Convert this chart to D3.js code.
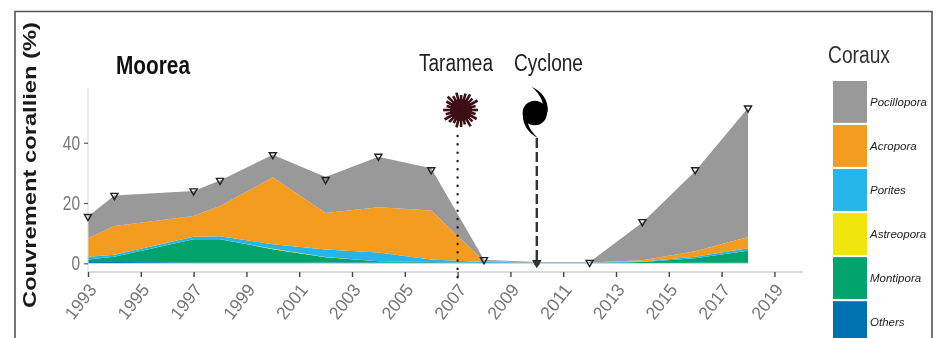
<!DOCTYPE html>
<html><head><meta charset="utf-8">
<script src="https://cdnjs.cloudflare.com/ajax/libs/d3/7.8.5/d3.min.js"></script>
<style>
html,body{margin:0;padding:0;background:#fff;overflow:hidden}
svg{display:block;filter:blur(0.45px)}
text{font-family:"Liberation Sans",Arial,sans-serif}
</style></head><body><svg id="c" width="943" height="338"></svg>
<script>
const years      = [1993,1994,1997,1998,2000,2002,2004,2006,2008,2010,2012,2014,2016,2018];
const others     = [0.4,0.4,0.3,0.3,0.3,0.3,0.3,0.3,0.1,0.1,0.1,0.1,0.2,0.2];
const montipora  = [0.9,1.8,7.7,7.7,4.4,1.7,0.4,0.1,0.0,0.0,0.0,0.3,1.5,4.0];
const astreopora = [0.0,0.0,0.0,0.0,0.1,0.1,0.0,0.0,0.0,0.0,0.0,0.0,0.0,0.0];
const porites    = [0.9,0.6,0.8,1.0,1.5,2.5,2.9,0.9,0.3,0.2,0.2,0.2,0.5,0.8];
const acropora   = [6.1,9.6,6.9,10.0,22.2,12.1,15.0,16.2,0.3,0.0,0.0,0.4,1.8,3.7];
const pocillopora= [7.2,10.1,8.3,8.5,7.5,11.9,16.7,14.0,0.5,0.1,0.1,12.5,26.5,42.8];
const surveyTotals=[15.5,22.5,24,27.5,36,27.8,35.5,31,1.2,0.2,0.3,13.8,31,51.5];
const legendNames = ["Pocillopora","Acropora","Porites","Astreopora","Montipora","Others"];
const legendColors= ["#999999","#F39C1F","#27B4E8","#F0E60E","#03A36E","#0072B2"];
const xTicks = [1993,1995,1997,1999,2001,2003,2005,2007,2009,2011,2013,2015,2017,2019];
const yTicks = [0,20,40];
const eventYears = {taramea:2007, cyclone:2010};
const urchinSpikes = [17,15,18,16,19,15,17,18,15,17,19,16,18,15,17,19,16,18,15,17,18,16,19,15];

const svg = d3.select("#c");
const x = d3.scaleLinear().domain([1993,2019]).range([88,774.4]);
const y = d3.scaleLinear().domain([0,40]).range([263.3,142.7]);

// frame
svg.append("path").attr("d","M15 338V11.5H932V338").attr("fill","none").attr("stroke","#555").attr("stroke-width",1.6);

// stack
const seriesByKey = {Others:others,Montipora:montipora,Astreopora:astreopora,Porites:porites,Acropora:acropora,Pocillopora:pocillopora};
const order = ["Others","Montipora","Astreopora","Porites","Acropora","Pocillopora"];
const rows = years.map((yr,i)=>{const r={year:yr};order.forEach(k=>r[k]=seriesByKey[k][i]);return r;});
const stacked = d3.stack().keys(order)(rows);
const color = d3.scaleOrdinal().domain(legendNames).range(legendColors);
const area = d3.area().x(d=>x(d.data.year)).y0(d=>y(d[0])).y1(d=>y(d[1]));
svg.append("g").selectAll("path").data(stacked).join("path").attr("d",area).attr("fill",d=>color(d.key));

// axes
const gx = svg.append("g").attr("transform","translate(0,272)")
  .call(d3.axisBottom(x).tickValues(xTicks).tickFormat(d3.format("d")).tickSize(5).tickPadding(4));
gx.select(".domain").remove();
gx.insert("line",":first-child").attr("x1",88).attr("x2",803).attr("stroke","#d0d0d0").attr("stroke-width",1.6);
gx.selectAll(".tick line").attr("stroke","#444").attr("stroke-width",1.4);
gx.selectAll(".tick text").attr("fill","#777").style("font-size","18px")
  .attr("text-anchor","end").attr("dy",0).attr("y",0)
  .attr("textLength",39).attr("lengthAdjust","spacingAndGlyphs")
  .attr("transform","translate(9,18) rotate(-52)");

const gy = svg.append("g").attr("transform","translate(88,0)")
  .call(d3.axisLeft(y).tickValues(yTicks).tickSize(4).tickPadding(4));
gy.select(".domain").remove();
gy.insert("line",":first-child").attr("y1",88).attr("y2",272).attr("stroke","#d8d8d8").attr("stroke-width",1);
gy.selectAll(".tick line").attr("stroke","#555").attr("stroke-width",1.2);
gy.selectAll(".tick text").attr("fill","#777").style("font-size","20px")
  .attr("textLength",d=>String(d).length*8.6).attr("lengthAdjust","spacingAndGlyphs");

// survey markers
const tri = d3.symbol().type(d3.symbolTriangle).size(22);
svg.append("g").selectAll("path").data(years.map((yr,i)=>[yr,surveyTotals[i]])).join("path")
  .attr("d",tri).attr("transform",d=>`translate(${x(d[0])},${y(d[1])}) rotate(180)`)
  .attr("fill","none").attr("stroke","#222").attr("stroke-width",1.4);

// events
svg.append("line").attr("x1",x(eventYears.taramea)).attr("x2",x(eventYears.taramea)).attr("y1",136).attr("y2",278)
  .attr("stroke","#222").attr("stroke-width",2.4).attr("stroke-dasharray","0.1 8.2").attr("stroke-linecap","round");
svg.append("line").attr("x1",x(eventYears.cyclone)).attr("x2",x(eventYears.cyclone)).attr("y1",138).attr("y2",263)
  .attr("stroke","#333").attr("stroke-width",2.4).attr("stroke-dasharray","10 4");
svg.append("circle").attr("cx",x(eventYears.cyclone)).attr("cy",y(0)).attr("r",2.8).attr("fill","#333");

// urchin icon
const ug = svg.append("g").attr("transform",`translate(${x(eventYears.taramea)+3.5},110)`);
ug.append("circle").attr("r",11).attr("fill","#3d0f16");
ug.selectAll("line").data(urchinSpikes).join("line")
  .attr("x1",0).attr("y1",0)
  .attr("x2",(r,i)=>r*Math.cos(i*2*Math.PI/urchinSpikes.length)).attr("y2",(r,i)=>r*Math.sin(i*2*Math.PI/urchinSpikes.length))
  .attr("stroke","#3d0f16").attr("stroke-width",2.6);

// cyclone icon
const cg = svg.append("g").attr("transform",`translate(${x(eventYears.cyclone)-2},113)`);
cg.append("circle").attr("r",12.2).attr("fill","#000");
cg.append("path").attr("d","M-3 -26C7 -22 14 -13 13 0L8 -9C7 -15 3 -21 -3 -26Z").attr("fill","#000");
cg.append("path").attr("d","M3 25C-5 21 -12 13 -12 2L-7 9C-6 15 -2 20 3 25Z").attr("fill","#000");

// texts
svg.append("text").attr("x",116).attr("y",74).attr("font-weight","bold").style("font-size","25px")
  .attr("textLength",74).attr("lengthAdjust","spacingAndGlyphs").attr("fill","#111").text("Moorea");
svg.append("text").attr("x",419).attr("y",71).style("font-size","23px")
  .attr("textLength",74).attr("lengthAdjust","spacingAndGlyphs").attr("fill","#222").text("Taramea");
svg.append("text").attr("x",514).attr("y",71).style("font-size","23px")
  .attr("textLength",69).attr("lengthAdjust","spacingAndGlyphs").attr("fill","#222").text("Cyclone");
svg.append("text").attr("transform","translate(36,308) rotate(-90)").attr("font-weight","bold")
  .style("font-size","19px")
  .attr("textLength",286).attr("lengthAdjust","spacingAndGlyphs").attr("fill","#1a1a1a").text("Couvrement corallien (%)");

// legend
svg.append("text").attr("x",828).attr("y",63).style("font-size","23px")
  .attr("textLength",62).attr("lengthAdjust","spacingAndGlyphs").attr("fill","#333").text("Coraux");
const band = d3.scaleBand().domain(legendNames).range([81,343]).paddingInner(0.05).paddingOuter(0);
const lg = svg.append("g").selectAll("g").data(legendNames).join("g");
lg.append("rect").attr("x",833).attr("width",34).attr("y",d=>band(d)).attr("height",band.bandwidth()).attr("fill",d=>color(d));
lg.append("text").attr("x",870).attr("y",d=>band(d)+band.bandwidth()/2+4).attr("font-style","italic")
  .style("font-size","11.5px").attr("fill","#222").text(d=>d);
</script></body></html>
